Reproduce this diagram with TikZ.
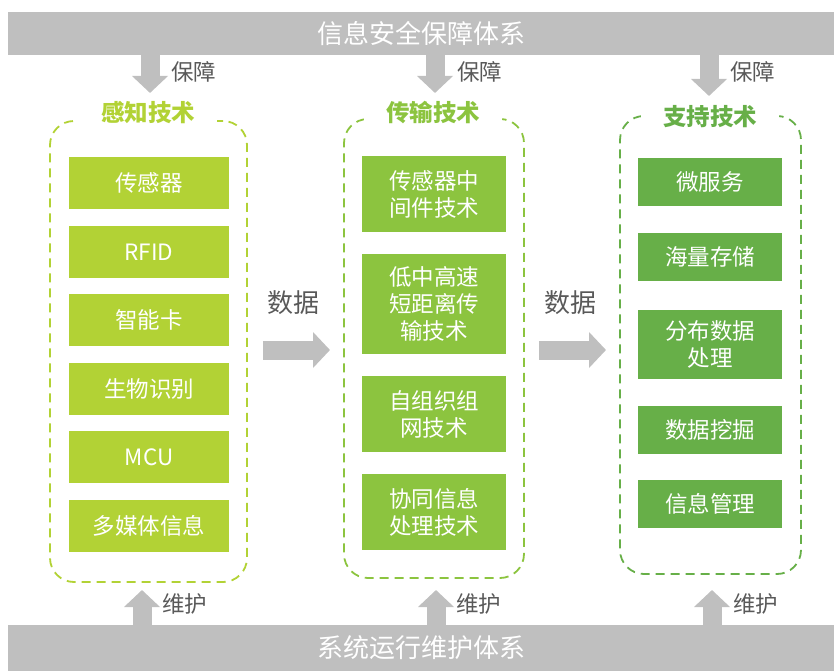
\documentclass[tikz,border=0pt]{standalone}
\usepackage{fontspec}
\setmainfont{Noto Sans CJK SC}
\usetikzlibrary{arrows.meta}
\definecolor{barg}{HTML}{BFBFBF}
\definecolor{lblg}{HTML}{595959}
\definecolor{cA}{HTML}{B2D235}
\definecolor{cB}{HTML}{8CC43F}
\definecolor{cC}{HTML}{67AF48}
\begin{document}
\begin{tikzpicture}[x=1pt,y=-1pt,
 bar/.style={fill=barg, text=white, font=\fontsize{26}{30}\selectfont, inner sep=0},
 cont/.style={draw=#1, dash pattern=on 9pt off 6pt, line width=1.8pt, rounded corners=24pt, inner sep=0},
 ttl/.style={text=#1, fill=white, font=\bfseries\fontsize{23.5}{26}\selectfont, inner xsep=22pt, inner ysep=2pt},
 box/.style={fill=#1, text=white, font=\fontsize{22.5}{27}\selectfont, align=center, inner sep=0},
 fat/.style={draw=barg, line width=19pt, -{Triangle[width=35pt,length=17pt]}},
 lbl/.style={text=lblg, font=\fontsize{22.5}{25}\selectfont, anchor=west, inner sep=0},
 dlbl/.style={text=lblg, font=\fontsize{26}{28}\selectfont, inner sep=0},
]
\useasboundingbox (0,0) rectangle (834,671);
% bars
\node[bar, minimum width=826, minimum height=43] (top) at (421,33.5) {信息安全保障体系};
\node[bar, minimum width=826, minimum height=46] (bot) at (421,648) {系统运行维护体系};
% containers
\node[cont=cA, minimum width=197, minimum height=461] (c1) at (148.5,351.5) {};
\node[cont=cB, minimum width=180, minimum height=459] (c2) at (434,348.5) {};
\node[cont=cC, minimum width=181, minimum height=458] (c3) at (710.5,345) {};
% titles
\node[ttl=cA] (t1) at (148,113) {感知技术};
\node[ttl=cB] (t2) at (433,113) {传输技术};
\node[ttl=cC] (t3) at (710,117) {支持技术};
% left boxes
\node[box=cA, minimum width=160, minimum height=52] (l1) at (149,183) {传感器};
\node[box=cA, minimum width=160, minimum height=52] (l2) at (149,252) {RFID};
\node[box=cA, minimum width=160, minimum height=52] (l3) at (149,320) {智能卡};
\node[box=cA, minimum width=160, minimum height=52] (l4) at (149,389) {生物识别};
\node[box=cA, minimum width=160, minimum height=52] (l5) at (149,457) {MCU};
\node[box=cA, minimum width=160, minimum height=52] (l6) at (149,526) {多媒体信息};
% middle boxes
\node[box=cB, minimum width=144, minimum height=76] (m1) at (434,194) {传感器中\\间件技术};
\node[box=cB, minimum width=144, minimum height=100] (m2) at (434,304) {低中高速\\短距离传\\输技术};
\node[box=cB, minimum width=144, minimum height=76] (m3) at (434,414) {自组织组\\网技术};
\node[box=cB, minimum width=144, minimum height=76] (m4) at (434,512) {协同信息\\处理技术};
% right boxes
\node[box=cC, minimum width=144, minimum height=48] (r1) at (710,182) {微服务};
\node[box=cC, minimum width=144, minimum height=48] (r2) at (710,257) {海量存储};
\node[box=cC, minimum width=144, minimum height=69] (r3) at (710,344.5) {分布数据\\处理};
\node[box=cC, minimum width=144, minimum height=48] (r4) at (710,430) {数据挖掘};
\node[box=cC, minimum width=144, minimum height=48] (r5) at (710,504) {信息管理};
% down arrows
\coordinate (a1) at (150,93);
\coordinate (a2) at (435,93);
\coordinate (a3) at (709,96);
\draw[fat] (top.south -| a1) -- (a1);
\draw[fat] (top.south -| a2) -- (a2);
\draw[fat] (top.south -| a3) -- (a3);
\node[lbl] (g1) at (171,72) {保障};
\node[lbl] (g2) at (457,72) {保障};
\node[lbl] (g3) at (730,72) {保障};
% up arrows
\coordinate (u1) at (142,590);
\coordinate (u2) at (436,590);
\coordinate (u3) at (712,590);
\draw[fat] (bot.north -| u1) -- (u1);
\draw[fat] (bot.north -| u2) -- (u2);
\draw[fat] (bot.north -| u3) -- (u3);
\node[lbl] (w1) at (162,604) {维护};
\node[lbl] (w2) at (456,604) {维护};
\node[lbl] (w3) at (733,604) {维护};
% data arrows
\coordinate (d1) at (330,350);
\coordinate (d2) at (606,350);
\draw[fat, shorten <=15pt] (c1.east |- d1) -- (d1);
\draw[fat, shorten <=14pt] (c2.east |- d2) -- (d2);
\node[dlbl] (s1) at (293,303) {数据};
\node[dlbl] (s2) at (570,303) {数据};
\end{tikzpicture}
\end{document}
